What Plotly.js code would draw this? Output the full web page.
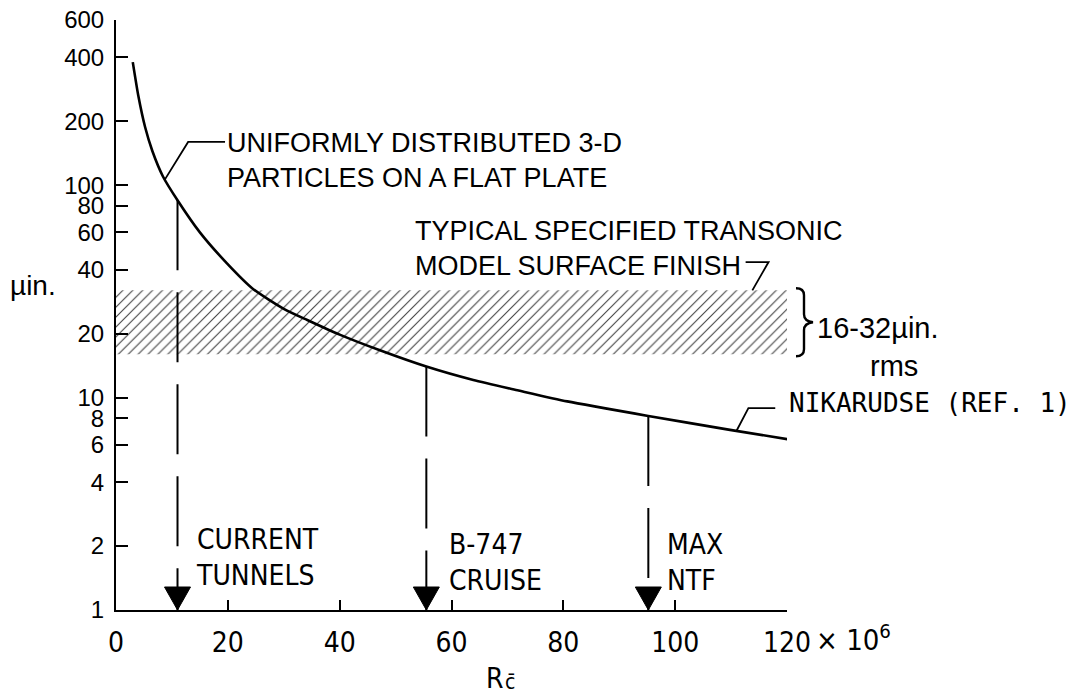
<!DOCTYPE html>
<html><head><meta charset="utf-8">
<script src="https://cdn.plot.ly/plotly-3.0.1.min.js"></script>
<style>html,body{margin:0;padding:0;background:#fff}#chart{width:1077px;height:696px}</style>
</head><body><div id="chart"></div>
<script>
// ---------------- data ----------------
const reynolds  = [3, 4, 5.2, 6.5, 8.4, 11, 15, 19.8, 24.5, 30, 34.2, 40, 47.2, 55.5, 63.9, 72, 80.7, 95.2, 109.8, 120.5];
const roughness = [380, 263, 188, 145, 110, 85, 60, 43, 32.5, 26.2, 23.2, 19.8, 16.7, 14, 12.1, 10.8, 9.6, 8.2, 7.05, 6.35];
const arrowReynolds  = [11, 55.5, 95.2];
const arrowRoughness = [85, 14, 8.2];
const arrowLabels = ["CURRENT<br>TUNNELS", "B-747<br>CRUISE", "MAX<br>NTF"];
const bandX = [0, 121];
const bandLow = 16, bandHigh = 32;
const xTickVals = [0, 20, 40, 60, 80, 100, 120];
const xTickText = ["0", "20", "40", "60", "80", "100", "120"];
const yTickVals = [1, 2, 4, 6, 8, 10, 20, 40, 60, 80, 100, 200, 400, 600];
const yTickText = ["1", "2", "4", "6", "8", "10", "20", "40", "60", "80", "100", "200", "400", "600"];
const leaderParticlesX = [8.7, 12.9, 19.5],  leaderParticlesY = [106, 160, 160];
const leaderFinishX    = [112.6, 116.7, 113.8], leaderFinishY = [43.5, 43.5, 32];
const leaderNikX       = [111, 113.1, 117.9], leaderNikY = [7.0, 8.93, 8.93];

// ---------------- layout helpers ----------------
const L = 116, T = 20, W = 671, H = 590;
const px = X => (X - L) / W;
const py = Y => (T + H - Y) / H;
const NARROW = "'Liberation Sans Narrow', 'Arial Narrow', 'DejaVu Sans Condensed', sans-serif";
const SANS = "'Liberation Sans', Arial, sans-serif";
const MONO = "'DejaVu Sans Mono', 'Liberation Mono', monospace";

const traces = [];
// hatched band
traces.push({
  x: [bandX[0], bandX[1], bandX[1], bandX[0], bandX[0]],
  y: [bandLow, bandLow, bandHigh, bandHigh, bandLow],
  mode: 'lines', fill: 'toself', line: {width: 0, color: 'rgba(0,0,0,0)'},
  fillcolor: 'white',
  fillpattern: {shape: '/', size: 7, solidity: 0.16, fgcolor: '#444', bgcolor: 'white'},
  hoverinfo: 'skip', showlegend: false
});
// curve
traces.push({
  x: reynolds, y: roughness, mode: 'lines',
  line: {color: '#000', width: 2.6, shape: 'spline', smoothing: 0.6},
  showlegend: false
});
// vertical dashed lines
arrowReynolds.forEach((r, i) => {
  traces.push({
    x: [r, r], y: [arrowRoughness[i], 1], mode: 'lines',
    line: {color: '#000', width: 2, dash: '70px,22px'}, showlegend: false, hoverinfo: 'skip'
  });
});
// leaders
[[leaderParticlesX, leaderParticlesY], [leaderFinishX, leaderFinishY], [leaderNikX, leaderNikY]].forEach(([lx, ly]) => {
  traces.push({x: lx, y: ly, mode: 'lines', line: {color: '#000', width: 1.8}, showlegend: false, hoverinfo: 'skip'});
});

const shapes = arrowReynolds.map(r => ({
  type: 'path', xref: 'x', yref: 'paper', xsizemode: 'pixel', ysizemode: 'pixel',
  xanchor: r, yanchor: 0, path: 'M-13,23 L13,23 L0,0 Z',
  fillcolor: '#000', line: {color: '#000', width: 1}
}));
// brace (paper-referenced so it is not clipped by the plot area)
shapes.push({
  type: 'path', xref: 'paper', yref: 'paper', xsizemode: 'pixel', ysizemode: 'pixel',
  xanchor: px(793), yanchor: Math.log10(Math.sqrt(bandLow * bandHigh)) / Math.log10(600),
  path: 'M3,34 Q11,34 11,27 L11,8 Q11,1 20,0 Q11,-1 11,-8 L11,-27 Q11,-34 3,-34',
  line: {color: '#000', width: 2.4}
});

const ann = [];
const txt = (x, y, text, font, extra) => ann.push(Object.assign({
  xref: 'paper', yref: 'paper', x: px(x), y: py(y), text, showarrow: false,
  xanchor: 'left', yanchor: 'middle', align: 'left', font
}, extra || {}));
const f = (size, fam) => ({size, family: fam || NARROW, color: '#000'});

txt(225, 160, 'UNIFORMLY DISTRIBUTED 3-D<br>PARTICLES ON A FLAT PLATE', f(27, SANS));
txt(413, 248, 'TYPICAL SPECIFIED TRANSONIC<br>MODEL SURFACE FINISH', f(27, SANS));
const labelX = [194, 447, 665], labelY = [557, 562, 562];
arrowLabels.forEach((t, i) => txt(labelX[i], labelY[i], t, f(28)));
txt(787, 403, 'NIKARUDSE (REF. 1)', f(26, MONO));
txt(815, 328, '16-32\u00b5in.', f(29, SANS));
txt(868, 366, 'rms', f(29, SANS));
txt(8, 285, '\u00b5in.', f(28, SANS));
txt(484, 678, 'R', f(28));
txt(503, 696, 'c\u0304', f(21), {yanchor: 'bottom'});
txt(814, 638, '\u00d7 10<sup>6</sup>', f(29));

const layout = {
  width: 1077, height: 696,
  margin: {l: L, r: 1077 - L - W, t: T, b: 696 - T - H},
  paper_bgcolor: '#fff', plot_bgcolor: '#fff',
  showlegend: false,
  xaxis: {
    range: [0, 120], tickvals: xTickVals, ticktext: xTickText,
    ticks: 'inside', ticklen: 10, tickwidth: 2, tickcolor: '#000',
    showline: true, linecolor: '#000', linewidth: 2, showgrid: false, zeroline: false,
    tickfont: f(28), ticklabelstandoff: 6
  },
  yaxis: {
    type: 'log', range: [0, Math.log10(600)], tickvals: yTickVals, ticktext: yTickText,
    ticks: 'inside', ticklen: 12, tickwidth: 2, tickcolor: '#000',
    showline: true, linecolor: '#000', linewidth: 2, showgrid: false, zeroline: false,
    tickfont: f(24, SANS), ticklabelstandoff: 5
  },
  shapes, annotations: ann
};
Plotly.newPlot('chart', traces, layout, {staticPlot: true, displayModeBar: false});
</script></body></html>
